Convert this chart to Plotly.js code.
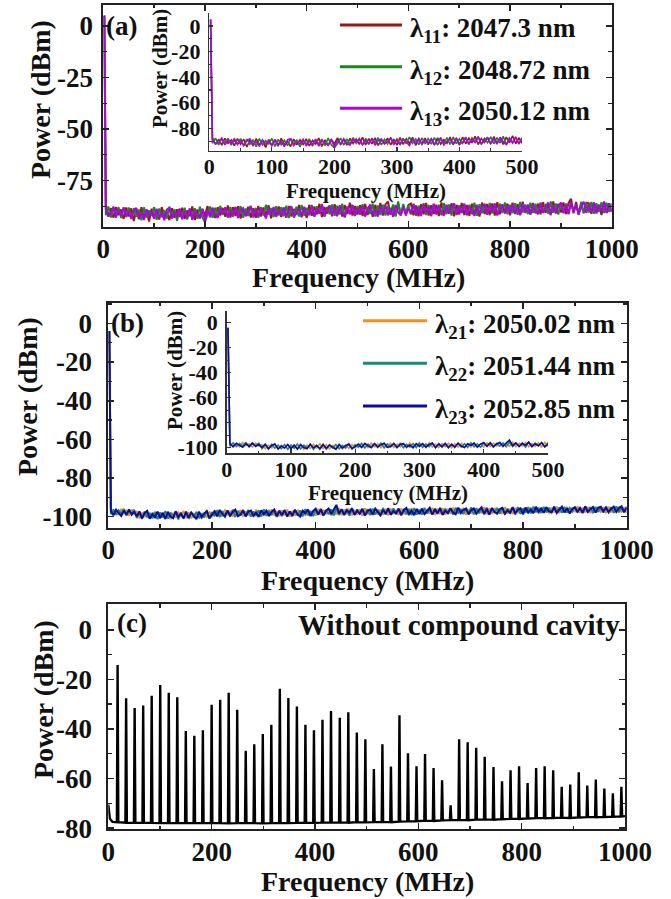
<!DOCTYPE html>
<html>
<head>
<meta charset="utf-8">
<script src="https://cdn.plot.ly/plotly-3.0.1.min.js"></script>
<style>
  html, body { margin: 0; padding: 0; background: #fff; }
  #chart { width: 671px; height: 899px; }
</style>
</head>
<body>
<div id="chart"></div>
<script>
// ---------- RF beat-note spectra: sweep grid (MHz) ----------
const freqMHz = [2,
  5,10,15,20,25,30,35,40,45,50,
  55,60,65,70,75,80,85,90,95,100,
  105,110,115,120,125,130,135,140,145,150,
  155,160,165,170,175,180,185,190,195,200,
  205,210,215,220,225,230,235,240,245,250,
  255,260,265,270,275,280,285,290,295,300,
  305,310,315,320,325,330,335,340,345,350,
  355,360,365,370,375,380,385,390,395,400,
  405,410,415,420,425,430,435,440,445,450,
  455,460,465,470,475,480,485,490,495,500,
  505,510,515,520,525,530,535,540,545,550,
  555,560,565,570,575,580,585,590,595,600,
  605,610,615,620,625,630,635,640,645,650,
  655,660,665,670,675,680,685,690,695,700,
  705,710,715,720,725,730,735,740,745,750,
  755,760,765,770,775,780,785,790,795,800,
  805,810,815,820,825,830,835,840,845,850,
  855,860,865,870,875,880,885,890,895,900,
  905,910,915,920,925,930,935,940,945,950,
  955,960,965,970,975,980,985,990,995,1000];

// ---------- (a) first compound-cavity set ----------
const namesA = ['11', '12', '13'];
const wavelengthsA = ['2047.3', '2048.72', '2050.12'];
const colorsA = ['#9a1818', '#178a1c', '#b000e6'];

const powerA11 = [5,
  -87.2,-92.6,-88.4,-93.1,-87.9,-91.8,-89.0,-93.6,-88.1,-92.4,
  -88.5,-94.6,-89.2,-93.8,-88.0,-92.9,-89.6,-94.9,-88.7,-93.3,
  -89.3,-93.9,-87.9,-92.6,-90.1,-94.2,-88.4,-93.0,-89.0,-92.7,
  -88.2,-93.7,-89.5,-92.3,-87.6,-94.1,-89.1,-93.4,-88.8,-92.0,
  -87.4,-92.8,-88.6,-93.2,-87.9,-91.9,-88.3,-92.6,-87.1,-93.0,
  -88.0,-92.2,-87.5,-93.4,-88.9,-91.6,-87.7,-92.9,-88.4,-93.1,
  -87.3,-92.5,-88.1,-91.8,-87.0,-93.3,-88.7,-92.0,-87.6,-92.7,
  -88.2,-93.0,-87.4,-92.4,-88.8,-91.7,-86.9,-92.8,-87.8,-93.2,
  -86.8,-92.1,-87.6,-91.4,-86.3,-92.7,-87.9,-91.0,-87.2,-92.3,
  -86.5,-91.8,-87.8,-92.5,-86.9,-91.2,-85.8,-92.0,-87.4,-91.5,
  -87.0,-92.2,-86.4,-91.7,-87.7,-92.6,-86.8,-91.3,-85.9,-92.0,
  -86.6,-85.2,-91.6,-87.3,-92.4,-86.1,-91.8,-87.5,-91.1,-86.9,
  -86.2,-91.9,-87.1,-92.3,-86.5,-91.4,-85.9,-92.0,-87.0,-91.2,
  -86.7,-92.2,-85.6,-91.6,-87.3,-90.9,-86.0,-92.4,-86.8,-91.5,
  -85.9,-91.7,-86.9,-92.1,-86.3,-91.0,-87.2,-92.5,-85.7,-91.3,
  -86.4,-91.8,-86.1,-92.0,-85.5,-91.4,-86.8,-90.8,-86.2,-91.9,
  -85.8,-91.2,-86.4,-91.9,-85.3,-90.7,-86.6,-91.5,-85.9,-90.9,
  -86.2,-91.4,-85.5,-90.6,-86.8,-91.8,-85.1,-91.0,-86.3,-90.5,
  -85.7,-91.3,-86.0,-83.8,-90.9,-85.4,-91.6,-86.5,-90.7,-85.8,
  -86.1,-91.1,-85.6,-90.4,-86.7,-91.7,-85.2,-90.8,-86.0,-90.3];

const powerA12 = [5,
  -91.8,-87.6,-92.9,-88.3,-91.4,-87.9,-93.2,-88.8,-92.0,-88.1,
  -93.7,-88.4,-92.5,-89.1,-94.3,-88.0,-93.0,-89.5,-92.2,-87.9,
  -94.1,-88.6,-92.8,-89.3,-93.5,-87.8,-92.4,-88.9,-94.5,-89.0,
  -92.6,-88.2,-93.9,-89.4,-92.1,-88.5,-93.6,-87.7,-92.9,-95.2,
  -91.9,-87.6,-93.1,-88.2,-92.4,-87.3,-91.7,-88.8,-92.9,-87.8,
  -92.6,-88.1,-91.5,-87.4,-93.0,-88.6,-92.2,-87.2,-91.8,-88.3,
  -93.1,-87.9,-92.0,-86.8,-91.6,-88.4,-92.7,-87.5,-91.9,-88.0,
  -92.3,-87.2,-93.2,-88.1,-91.4,-87.7,-92.5,-86.9,-92.0,-88.2,
  -91.8,-86.9,-92.4,-87.5,-91.1,-86.4,-92.6,-87.8,-91.3,-86.6,
  -92.1,-87.2,-91.5,-86.3,-92.8,-87.6,-91.0,-86.8,-92.2,-87.4,
  -91.6,-86.5,-92.3,-87.9,-91.2,-86.2,-92.5,-87.1,-91.7,-86.8,
  -92.0,-87.3,-91.4,-86.6,-92.2,-85.1,-91.8,-86.4,-91.1,-87.0,
  -91.5,-86.3,-92.1,-87.2,-90.9,-86.0,-91.7,-86.9,-92.3,-86.4,
  -91.2,-86.8,-91.9,-85.9,-91.4,-86.6,-92.0,-86.1,-91.6,-87.0,
  -90.8,-86.2,-91.7,-86.7,-91.3,-85.8,-92.1,-86.5,-90.9,-86.3,
  -91.6,-85.9,-91.0,-86.6,-91.8,-86.2,-90.7,-85.6,-91.4,-86.8,
  -90.9,-86.0,-91.6,-85.4,-90.5,-86.7,-91.3,-85.8,-90.8,-86.3,
  -91.4,-85.6,-90.7,-86.4,-91.1,-85.2,-90.6,-86.1,-91.5,-85.7,
  -90.6,-86.2,-91.2,-85.5,-90.4,-86.8,-91.0,-85.3,-90.9,-85.9,
  -90.5,-85.4,-91.1,-86.0,-90.2,-85.6,-90.8,-85.8,-90.3,-86.1];

const powerA13 = [5,
  -88.9,-92.3,-90.8,-87.6,-93.0,-89.2,-91.9,-88.0,-92.7,-89.8,
  -93.4,-89.6,-88.3,-92.8,-90.5,-94.1,-88.9,-92.2,-90.1,-93.6,
  -88.7,-92.9,-90.4,-94.3,-89.1,-88.2,-93.5,-90.7,-92.1,-88.6,
  -93.8,-90.0,-92.6,-88.5,-94.0,-89.7,-91.5,-93.3,-88.8,-94.4,
  -89.4,-92.5,-88.1,-91.7,-93.1,-88.7,-91.0,-87.9,-92.8,-89.6,
  -91.9,-87.8,-93.2,-89.5,-88.4,-92.3,-90.2,-87.6,-92.9,-88.9,
  -92.0,-88.6,-90.7,-93.4,-88.3,-91.5,-87.9,-92.6,-89.2,-91.8,
  -88.1,-92.7,-89.4,-87.5,-93.0,-90.1,-88.5,-92.2,-87.8,-91.6,
  -91.3,-87.4,-92.5,-88.6,-90.9,-86.8,-92.0,-89.1,-87.3,-91.8,
  -88.2,-92.3,-87.0,-90.6,-92.7,-87.9,-91.4,-86.9,-92.1,-88.5,
  -91.0,-87.3,-92.4,-88.8,-86.6,-91.7,-89.3,-92.5,-87.5,-90.8,
  -87.1,-91.9,-88.4,-92.6,-86.9,-90.5,-91.8,-87.6,-92.0,-88.7,
  -90.7,-86.5,-91.6,-88.1,-92.2,-86.9,-90.4,-87.7,-91.9,-86.3,
  -91.5,-87.4,-90.2,-92.0,-86.7,-91.1,-88.3,-86.2,-91.7,-87.9,
  -90.6,-86.4,-91.8,-87.6,-90.1,-92.1,-86.8,-91.2,-88.0,-86.5,
  -91.4,-87.2,-90.0,-86.1,-91.9,-88.4,-86.6,-91.0,-87.3,-90.7,
  -86.4,-90.9,-87.8,-91.6,-85.9,-90.2,-87.1,-91.3,-86.5,-89.9,
  -91.1,-86.2,-90.5,-88.0,-85.7,-91.4,-86.9,-90.3,-87.5,-85.8,
  -90.8,-87.0,-91.2,-85.6,-90.0,-86.7,-91.5,-87.4,-85.3,-90.6,
  -86.9,-90.4,-85.8,-91.0,-87.2,-89.8,-85.5,-90.7,-86.6,-89.9];

// ---------- (b) second compound-cavity set ----------
const namesB = ['21', '22', '23'];
const wavelengthsB = ['2050.02', '2051.44', '2052.85'];
const colorsB = ['#ff8a1c', '#168a80', '#0c0ca0'];

const powerB21 = [-4,
  -96.0,-98.9,-96.6,-99.2,-95.9,-98.4,-96.8,-99.5,-96.3,-98.7,
  -97.4,-100.8,-97.9,-100.2,-97.1,-101.0,-98.0,-100.5,-97.6,-100.9,
  -97.8,-100.4,-97.2,-101.3,-98.1,-100.6,-97.5,-100.1,-97.0,-100.7,
  -97.6,-100.9,-98.2,-100.3,-97.3,-101.1,-97.9,-100.5,-97.4,-100.2,
  -96.7,-99.6,-97.1,-99.9,-96.4,-99.3,-97.0,-100.0,-96.8,-99.5,
  -96.5,-99.8,-97.2,-99.4,-96.9,-100.1,-96.3,-99.7,-97.0,-99.2,
  -96.6,-99.9,-96.2,-99.5,-97.1,-99.8,-96.7,-99.3,-96.4,-100.0,
  -97.0,-99.6,-96.5,-99.9,-96.8,-99.4,-96.1,-99.7,-96.9,-99.5,
  -96.0,-99.1,-96.4,-98.8,-95.8,-99.4,-96.5,-98.9,-95.6,-99.2,
  -96.3,-98.7,-95.9,-99.3,-96.6,-98.9,-96.1,-99.5,-95.7,-98.8,
  -96.2,-99.2,-95.5,-98.9,-96.4,-99.0,-96.0,-99.3,-95.8,-98.6,
  -96.5,-99.1,-95.9,-98.7,-96.2,-99.4,-95.6,-99.0,-96.3,-98.8,
  -95.7,-98.8,-96.1,-98.5,-95.4,-99.0,-95.9,-98.6,-95.6,-98.9,
  -96.0,-98.4,-95.3,-98.9,-95.8,-98.6,-95.5,-99.1,-96.1,-98.3,
  -95.6,-98.7,-95.9,-98.2,-95.2,-98.8,-95.7,-98.5,-95.4,-98.9,
  -95.8,-98.6,-95.1,-98.4,-95.9,-98.7,-95.5,-98.1,-95.3,-98.8,
  -95.2,-98.0,-95.6,-97.8,-94.9,-98.3,-95.3,-97.9,-95.0,-98.2,
  -95.4,-97.7,-94.8,-98.1,-95.5,-97.9,-94.9,-98.3,-95.2,-97.6,
  -94.7,-98.0,-95.3,-97.8,-95.0,-98.2,-94.6,-97.9,-95.4,-97.5,
  -95.1,-98.1,-94.8,-97.7,-95.3,-98.0,-94.7,-97.8,-95.2,-97.9];

const powerB22 = [-4,
  -98.8,-96.2,-99.1,-96.7,-98.5,-96.0,-99.4,-96.9,-98.3,-96.4,
  -100.7,-97.6,-101.2,-97.3,-100.4,-98.0,-100.9,-97.5,-101.3,-97.8,
  -100.5,-97.1,-101.0,-97.9,-100.2,-97.4,-101.4,-98.1,-100.6,-97.2,
  -101.1,-97.7,-100.3,-97.5,-100.8,-98.2,-100.4,-97.0,-101.0,-97.6,
  -99.7,-96.6,-100.2,-97.2,-99.4,-96.8,-99.9,-96.3,-100.1,-97.0,
  -99.3,-96.9,-99.8,-96.5,-100.0,-97.3,-99.5,-96.7,-99.9,-96.2,
  -99.6,-97.1,-99.2,-96.4,-100.1,-96.9,-99.7,-96.6,-99.4,-97.2,
  -99.9,-96.3,-99.5,-96.8,-99.8,-96.1,-99.3,-97.0,-99.7,-96.5,
  -99.0,-95.9,-99.4,-96.5,-98.7,-96.2,-99.3,-95.7,-99.1,-96.4,
  -98.8,-96.0,-99.5,-95.6,-99.0,-96.3,-98.6,-95.9,-99.3,-96.1,
  -99.2,-95.8,-98.9,-96.4,-99.4,-95.5,-98.7,-96.2,-99.1,-95.7,
  -98.6,-96.3,-99.3,-95.9,-98.8,-96.0,-99.2,-95.6,-98.9,-96.4,
  -98.9,-95.5,-98.4,-96.1,-98.8,-95.7,-98.6,-95.3,-99.0,-95.9,
  -98.5,-95.8,-98.9,-95.4,-98.3,-96.0,-98.7,-95.6,-98.4,-95.2,
  -98.8,-95.6,-98.2,-95.9,-98.6,-95.3,-98.9,-95.7,-98.1,-95.5,
  -98.4,-95.2,-98.7,-95.8,-98.3,-95.5,-98.8,-95.0,-98.5,-95.7,
  -97.9,-95.1,-98.3,-94.8,-97.7,-95.4,-98.1,-94.9,-97.8,-95.3,
  -98.2,-94.7,-97.6,-95.2,-98.0,-94.9,-97.9,-95.5,-97.5,-94.8,
  -97.8,-95.3,-98.1,-94.6,-97.7,-95.0,-98.2,-94.9,-97.6,-95.4,
  -97.9,-94.8,-97.5,-95.1,-98.0,-94.7,-97.7,-95.2,-97.4,-94.9];

const powerB23 = [-4,
  -97.0,-99.3,-96.4,-98.1,-99.6,-96.8,-98.9,-96.2,-99.0,-97.5,
  -99.8,-97.3,-100.9,-98.2,-97.0,-101.1,-98.6,-100.3,-97.4,-100.7,
  -98.0,-101.2,-97.6,-99.9,-100.8,-97.2,-100.1,-98.3,-101.0,-97.7,
  -100.5,-97.9,-99.6,-101.3,-97.5,-100.2,-98.4,-97.1,-100.8,-98.7,
  -97.3,-99.8,-96.5,-98.6,-100.0,-96.9,-99.4,-97.6,-96.4,-99.7,
  -99.0,-96.6,-99.9,-97.4,-96.8,-99.5,-97.9,-100.1,-96.7,-98.8,
  -96.9,-99.6,-97.5,-96.3,-99.8,-97.0,-99.2,-96.6,-100.0,-97.3,
  -99.4,-96.5,-98.7,-99.9,-96.9,-98.2,-96.4,-99.6,-97.1,-95.9,
  -98.9,-96.2,-99.3,-97.0,-95.8,-98.7,-96.5,-93.9,-98.4,-96.1,
  -99.2,-96.7,-98.0,-95.7,-99.1,-96.9,-98.5,-96.0,-99.4,-97.2,
  -96.3,-98.9,-95.9,-97.8,-99.3,-96.4,-98.6,-95.6,-99.0,-97.1,
  -98.3,-95.8,-99.1,-96.6,-95.5,-98.8,-96.9,-99.2,-96.0,-98.5,
  -95.9,-98.6,-96.8,-95.4,-98.9,-96.2,-98.3,-95.7,-99.0,-96.9,
  -98.2,-95.6,-97.9,-98.7,-95.3,-98.0,-96.4,-95.8,-98.8,-96.7,
  -95.8,-98.4,-96.6,-95.2,-98.6,-96.0,-98.9,-95.5,-97.6,-98.3,
  -96.1,-95.4,-98.5,-96.8,-98.0,-95.1,-98.2,-96.5,-95.7,-98.7,
  -95.3,-97.9,-96.2,-98.2,-94.9,-97.5,-95.8,-98.0,-95.1,-97.3,
  -97.7,-95.0,-98.1,-96.3,-94.8,-97.8,-95.6,-98.3,-96.0,-95.2,
  -97.4,-95.5,-98.0,-94.7,-97.6,-96.1,-95.0,-97.9,-95.4,-94.9,
  -97.2,-95.3,-97.8,-96.0,-94.8,-97.5,-95.6,-94.6,-97.7,-95.4];

// ---------- (c) laser without the compound cavity: beat-note comb ----------
const combPeakMHz = [18,34.5,51,67.5,84,100.5,117,133.5,150,166.5,
  183,200,216.5,233,249.5,266,282.5,299,315.5,332,
  348.5,365,381.5,398,414.5,431,448,464.5,481,497.5,
  514,530.5,547,563.5,580,596.5,613,629.5,646,662.5,
  679,695.5,712,728.5,745.5,762,778.5,795,811.5,828,
  844.5,861,877.5,894,910.5,927,943.5,960,976.5,993];
const combPeakDbm = [-14.2,-27.6,-31.6,-30.6,-26.6,-22.3,-25.4,-27.2,-40.8,-42.8,
  -40.5,-30.3,-28.2,-25.4,-32.3,-48.8,-46.2,-42.1,-38.3,-23.8,
  -27.5,-31.0,-38.3,-40.5,-36.3,-32.8,-35.5,-33.3,-41.4,-44.2,
  -56.2,-46.2,-55.2,-34.5,-49.8,-55.1,-50.1,-55.8,-60.7,-70.8,
  -44.2,-45.4,-47.6,-51.2,-55.4,-61.1,-56.7,-55.1,-61.8,-55.8,
  -55.1,-56.7,-63.3,-62.4,-57.5,-62.8,-60.4,-64.1,-66.0,-63.3];
const combFloorDbm = [-77.6,-77.8,-77.9,-77.8,-77.9,-78.0,-77.9,-78.0,-77.9,-78.0,
  -78.0,-77.9,-78.0,-78.1,-78.0,-77.9,-78.0,-78.1,-78.0,-77.9,
  -78.0,-77.9,-77.8,-77.9,-77.8,-77.8,-77.7,-77.8,-77.6,-77.7,
  -77.6,-77.5,-77.6,-77.4,-77.3,-77.2,-77.0,-77.1,-76.9,-76.8,
  -76.7,-76.8,-76.6,-76.5,-76.6,-76.4,-76.3,-76.3,-76.1,-76.0,
  -76.0,-75.9,-75.8,-75.9,-75.7,-75.6,-75.6,-75.5,-75.4,-75.3];
const combLeadMHz = [0, 3, 8];
const combLeadDbm = [-70.5, -76.2, -77.5];
const combTailMHz = [1000];
const combTailDbm = [-75.2];

// ---------- tick labels ----------
const freqTicks = [0, 200, 400, 600, 800, 1000];
const freqTickText = ['0', '200', '400', '600', '800', '1000'];
const insetFreqTicks = [0, 100, 200, 300, 400, 500];
const insetFreqTickText = ['0', '100', '200', '300', '400', '500'];
const powerTicksA = [0, -25, -50, -75];
const powerTickTextA = ['0', '-25', '-50', '-75'];
const powerTicksB = [0, -20, -40, -60, -80, -100];
const powerTickTextB = ['0', '-20', '-40', '-60', '-80', '-100'];
const powerTicksC = [0, -20, -40, -60, -80];
const powerTickTextC = ['0', '-20', '-40', '-60', '-80'];
const insetPowerTicksA = [0, -20, -40, -60, -80];
const insetPowerTickTextA = ['0', '-20', '-40', '-60', '-80'];
const insetPowerTicksB = [0, -20, -40, -60, -80, -100];
const insetPowerTickTextB = ['0', '-20', '-40', '-60', '-80', '-100'];

const xTitle = 'Frequency (MHz)';
const yTitle = 'Power (dBm)';
const panelNoteC = 'Without compound cavity';

// ---------- page geometry helpers (pixel -> paper) ----------
const W = 671, H = 899;
const px = v => v / W;
const py = v => 1 - v / H;

const SERIF = 'Liberation Serif';
const INK = '#111';
const AXIS = '#222';

function mainAxis(dom, anchor, range, vals, text, minorStep, standoff) {
  return {
    domain: dom, anchor: anchor, range: range,
    tickmode: 'array', tickvals: vals, ticktext: text,
    ticks: 'inside', ticklen: 6, tickwidth: 1.6, tickcolor: AXIS,
    minor: { ticks: 'inside', ticklen: 3.5, tickwidth: 1.4, tickcolor: AXIS, tick0: 0, dtick: minorStep },
    showline: true, mirror: 'ticks', linecolor: AXIS, linewidth: 2,
    showgrid: false, zeroline: false, fixedrange: true,
    ticklabelstandoff: standoff,
    tickfont: { family: SERIF, size: 27, color: INK, weight: 'bold' }
  };
}
function insetAxis(dom, anchor, range, vals, text, minorStep, standoff) {
  return {
    domain: dom, anchor: anchor, range: range,
    tickmode: 'array', tickvals: vals, ticktext: text,
    ticks: 'inside', ticklen: 4, tickwidth: 1.3, tickcolor: '#333',
    minor: { ticks: 'inside', ticklen: 2.5, tickwidth: 1.2, tickcolor: '#333', tick0: 0, dtick: minorStep },
    showline: true, mirror: false, linecolor: '#333', linewidth: 1.5,
    showgrid: false, zeroline: false, fixedrange: true,
    ticklabelstandoff: standoff,
    tickfont: { family: SERIF, size: 22, color: INK, weight: 'bold' }
  };
}

// ---------- traces ----------
const traces = [];
const setA = [powerA11, powerA12, powerA13];
const setB = [powerB21, powerB22, powerB23];
setA.forEach((ys, i) => {
  traces.push({ x: freqMHz, y: ys, xaxis: 'x', yaxis: 'y', type: 'scatter', mode: 'lines',
    line: { color: colorsA[i], width: 2 }, hoverinfo: 'skip', showlegend: false });
});
setA.forEach((ys, i) => {
  traces.push({ x: freqMHz, y: ys, xaxis: 'x2', yaxis: 'y2', type: 'scatter', mode: 'lines',
    line: { color: colorsA[i], width: 1.6 }, hoverinfo: 'skip', showlegend: false });
});
setB.forEach((ys, i) => {
  traces.push({ x: freqMHz, y: ys, xaxis: 'x3', yaxis: 'y3', type: 'scatter', mode: 'lines',
    line: { color: colorsB[i], width: 2 }, hoverinfo: 'skip', showlegend: false });
});
setB.forEach((ys, i) => {
  traces.push({ x: freqMHz, y: ys, xaxis: 'x4', yaxis: 'y4', type: 'scatter', mode: 'lines',
    line: { color: colorsB[i], width: 1.6 }, hoverinfo: 'skip', showlegend: false });
});

// comb spectrum: each beat note drawn as a narrow spike rising from the local floor
const SPIKE_HALF = 1.4;
const combX = combLeadMHz.slice(), combY = combLeadDbm.slice();
combPeakMHz.forEach((f, i) => {
  combX.push(f - SPIKE_HALF, f, f + SPIKE_HALF);
  combY.push(combFloorDbm[i], combPeakDbm[i], combFloorDbm[i]);
});
combX.push(...combTailMHz); combY.push(...combTailDbm);
traces.push({ x: combX, y: combY, xaxis: 'x5', yaxis: 'y5', type: 'scatter', mode: 'lines',
  line: { color: '#000', width: 2.4 }, hoverinfo: 'skip', showlegend: false });

// ---------- axes ----------
const layout = {
  width: W, height: H,
  margin: { l: 0, r: 0, t: 0, b: 0 },
  paper_bgcolor: '#fff', plot_bgcolor: 'rgba(0,0,0,0)',
  showlegend: false,
  font: { family: SERIF },
  xaxis:  mainAxis([px(103.3), px(611.7)], 'y', [0, 1000], freqTicks, freqTickText, 100, -3),
  yaxis:  mainAxis([py(226.7), py(4.7)], 'x', [-97.4, 10.3], powerTicksA, powerTickTextA, 12.5, 3),
  xaxis2: insetAxis([px(209.3), px(522)], 'y2', [0, 500], insetFreqTicks, insetFreqTickText, 50, -5),
  yaxis2: insetAxis([py(150.7), py(12.7)], 'x2', [-97.5, 10.4], insetPowerTicksA, insetPowerTickTextA, 10, 3),
  xaxis3: mainAxis([px(108.3), px(626.7)], 'y3', [0, 1000], freqTicks, freqTickText, 100, -3),
  yaxis3: mainAxis([py(527.7), py(302.7)], 'x3', [-105.7, 10.7], powerTicksB, powerTickTextB, 10, 9),
  xaxis4: insetAxis([px(226.7), px(548)], 'y4', [0, 500], insetFreqTicks, insetFreqTickText, 50, -4),
  yaxis4: insetAxis([py(453.3), py(310.7)], 'x4', [-104.5, 9.6], insetPowerTicksB, insetPowerTickTextB, 10, 3),
  xaxis5: mainAxis([px(108.3), px(625)], 'y5', [0, 1000], freqTicks, freqTickText, 100, -3),
  yaxis5: mainAxis([py(829.3), py(604)], 'x5', [-80.5, 10.4], powerTicksC, powerTickTextC, 10, 9),
  annotations: [], shapes: []
};

function note(text, x, y, size, opts) {
  return Object.assign({
    text: text, xref: 'paper', yref: 'paper', x: px(x), y: py(y),
    xanchor: 'center', yanchor: 'middle', showarrow: false,
    font: { family: SERIF, size: size, color: INK, weight: 'bold' }
  }, opts || {});
}
const A = layout.annotations;

// axis titles
A.push(note(yTitle, 40, 100, 28, { textangle: -90 }));
A.push(note(xTitle, 358, 277, 28));
A.push(note(yTitle, 28, 397, 28, { textangle: -90 }));
A.push(note(xTitle, 367.5, 580, 28));
A.push(note(yTitle, 43, 700, 28, { textangle: -90 }));
A.push(note(xTitle, 367, 881, 28));
// inset titles
A.push(note(yTitle, 160, 69, 21, { textangle: -90 }));
A.push(note(xTitle, 366, 191, 21));
A.push(note(yTitle, 175, 371, 21, { textangle: -90 }));
A.push(note(xTitle, 388, 493, 21));
// panel tags
A.push(note('(a)', 104, 26, 27, { xanchor: 'left' }));
A.push(note('(b)', 109, 323, 27, { xanchor: 'left' }));
A.push(note('(c)', 115, 623, 27, { xanchor: 'left' }));
A.push(note(panelNoteC, 622, 625, 29, { xanchor: 'right' }));

// hand-placed legends
const legA = [25, 66.7, 108.3];
namesA.forEach((n, i) => {
  layout.shapes.push({ type: 'line', xref: 'paper', yref: 'paper',
    x0: px(340), x1: px(402), y0: py(legA[i]), y1: py(legA[i]),
    line: { color: colorsA[i], width: 3 } });
  A.push(note('λ<sub>' + n + '</sub>: ' + wavelengthsA[i] + ' nm', 408, legA[i] + 5, 27, { xanchor: 'left' }));
});
const legB = [320.7, 363.3, 406];
namesB.forEach((n, i) => {
  layout.shapes.push({ type: 'line', xref: 'paper', yref: 'paper',
    x0: px(363), x1: px(427), y0: py(legB[i]), y1: py(legB[i]),
    line: { color: colorsB[i], width: 3 } });
  A.push(note('λ<sub>' + n + '</sub>: ' + wavelengthsB[i] + ' nm', 433, legB[i] + 5, 27, { xanchor: 'left' }));
});

Plotly.newPlot('chart', traces, layout, { staticPlot: true, displayModeBar: false });
</script>
</body>
</html>
